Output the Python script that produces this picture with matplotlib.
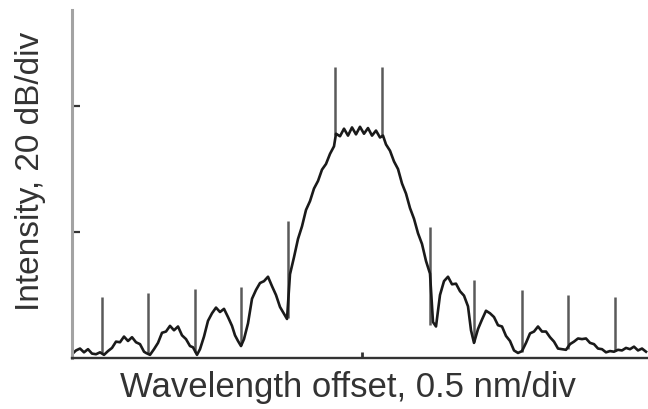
import numpy as np
import matplotlib
matplotlib.use("Agg")
import matplotlib.pyplot as plt

plt.rcParams['font.family'] = ['Liberation Sans', 'DejaVu Sans']

# spectrum trace: offset in nm, level in dB above the floor
wl = [-2.90, -2.86, -2.82, -2.78, -2.74, -2.70, -2.66, -2.62, -2.58, -2.54,
      -2.50, -2.46, -2.42, -2.38, -2.34, -2.30, -2.26, -2.22, -2.18, -2.16,
      -2.12, -2.08, -2.04, -2.00, -1.96, -1.92, -1.88, -1.84, -1.80, -1.76,
      -1.72, -1.69, -1.65, -1.62, -1.58, -1.54, -1.50, -1.46, -1.42, -1.38,
      -1.34, -1.30, -1.27, -1.24, -1.21, -1.18, -1.14, -1.10, -1.06, -1.02,
      -0.98, -0.94, -0.90, -0.86, -0.82, -0.78, -0.75, -0.72, -0.68, -0.64,
      -0.60, -0.56, -0.52, -0.48, -0.44, -0.40, -0.36, -0.32, -0.28, -0.26,
      -0.22, -0.18, -0.14, -0.10, -0.06, -0.02, 0.02, 0.06, 0.10, 0.14,
      0.18, 0.21, 0.24, 0.28, 0.32, 0.36, 0.40, 0.44, 0.48, 0.52,
      0.56, 0.60, 0.64, 0.68, 0.71, 0.74, 0.78, 0.82, 0.86, 0.90,
      0.94, 0.98, 1.02, 1.06, 1.09, 1.12, 1.16, 1.20, 1.24, 1.28,
      1.32, 1.36, 1.40, 1.44, 1.48, 1.52, 1.56, 1.60, 1.64, 1.68,
      1.72, 1.76, 1.80, 1.84, 1.88, 1.92, 1.96, 2.00, 2.04, 2.08,
      2.12, 2.16, 2.20, 2.24, 2.28, 2.32, 2.36, 2.40, 2.44, 2.48,
      2.52, 2.56, 2.60, 2.64, 2.68, 2.72, 2.76, 2.80, 2.84]
level = [0.6, 1.2, 1.5, 0.9, 1.4, 0.7, 0.6, 0.9, 0.5, 1.1,
         1.6, 2.6, 2.5, 3.4, 2.7, 3.3, 2.5, 2.2, 1.0, 0.8,
         0.5, 1.4, 2.4, 4.0, 4.2, 5.1, 4.4, 5.0, 3.6, 3.0,
         1.9, 1.7, 0.5, 1.4, 3.4, 5.9, 7.1, 8.0, 7.3, 7.8,
         6.5, 5.1, 3.6, 2.7, 1.9, 3.0, 5.5, 9.4, 10.8, 11.9,
         12.2, 12.9, 11.4, 10.0, 8.1, 7.0, 6.2, 13.3, 16.0, 18.9,
         20.9, 23.5, 24.9, 26.9, 28.1, 29.9, 30.8, 32.4, 33.6, 35.6,
         35.2, 36.4, 35.3, 36.6, 35.5, 36.7, 35.6, 36.5, 35.3, 36.1,
         35.0, 35.3, 33.9, 32.9, 31.2, 30.0, 27.7, 26.1, 23.8, 22.1,
         19.8, 18.1, 15.4, 13.4, 5.7, 5.0, 10.0, 12.2, 12.9, 11.7,
         11.8, 10.6, 9.9, 8.2, 4.4, 2.4, 4.6, 6.1, 7.5, 7.1,
         6.5, 5.2, 5.0, 3.5, 2.7, 1.2, 0.8, 1.1, 2.4, 3.9,
         4.2, 5.0, 4.2, 4.2, 3.3, 2.6, 1.5, 1.4, 1.3, 2.2,
         2.6, 3.1, 3.0, 3.1, 2.4, 2.2, 1.5, 1.4, 0.9, 1.1,
         1.0, 1.3, 1.2, 1.6, 1.4, 1.8, 1.2, 1.5, 1.0]

# narrow comb lines sitting on the trace
line_wl = [-2.60, -2.14, -1.67, -1.21, -0.74, -0.27, 0.20, 0.68, 1.12, 1.60, 2.06, 2.53]
line_top = [9.7, 10.3, 11.0, 11.3, 21.7, 46.2, 46.2, 20.8, 12.4, 10.8, 10.0, 9.7]
line_base = [0.8, 0.6, 1.0, 2.1, 6.3, 35.4, 35.1, 5.2, 2.5, 1.0, 1.4, 1.1]

fig = plt.figure(figsize=(6.48, 4.09), dpi=100)
ax = fig.add_axes([72 / 648, 51 / 409, 576 / 648, 348 / 409])

ax.vlines(line_wl, line_base, line_top, colors='#5a5a5a', linewidth=1.8)
ax.plot(wl, level, color='#1a1a1a', linewidth=1.9)

ax.set_xlim(-2.90, 2.86)
ax.set_ylim(0, 55.24)

ax.spines['top'].set_visible(False)
ax.spines['right'].set_visible(False)
ax.spines['left'].set_color('#a3a3a3')
ax.spines['left'].set_linewidth(2.2)
ax.spines['bottom'].set_color('#333333')
ax.spines['bottom'].set_linewidth(1.7)

ax.set_yticks([20, 40])
ax.set_xticks([0])
ax.tick_params(axis='y', direction='in', length=6, width=1.6, color='#333333',
               labelleft=False)
ax.tick_params(axis='x', direction='in', length=4, width=2.0, color='#333333',
               labelbottom=False)

fig.text(348 / 648, 1 - 387 / 409, 'Wavelength offset, 0.5 nm/div', ha='center',
         va='center', fontsize=25, color='#333333')
fig.text(31 / 648, 1 - 171 / 409, 'Intensity, 20 dB/div', ha='center',
         va='center', rotation=90, fontsize=24, color='#333333')

fig.savefig('out.png', dpi=100)
